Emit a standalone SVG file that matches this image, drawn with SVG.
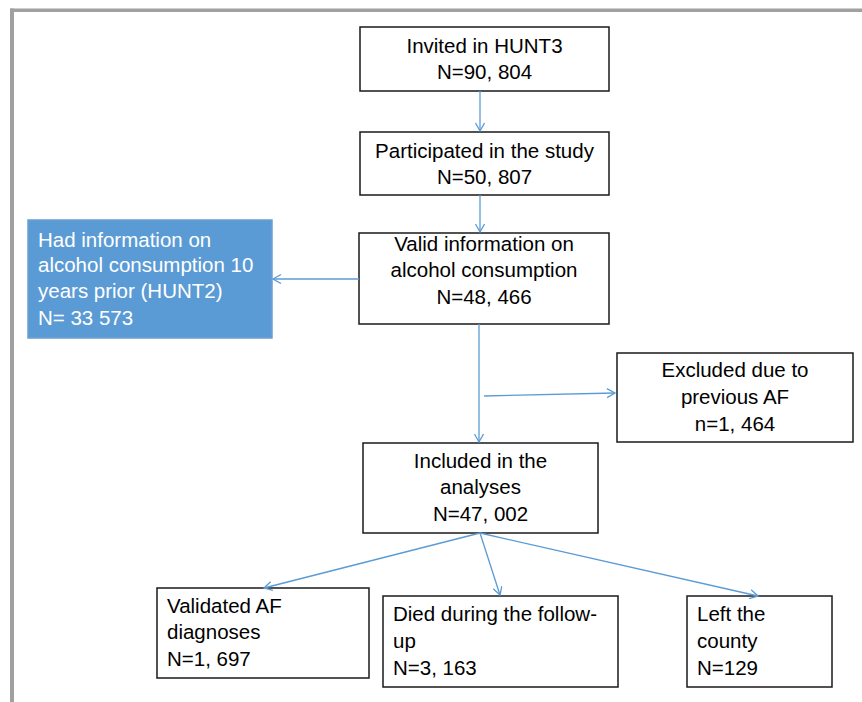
<svg xmlns="http://www.w3.org/2000/svg" width="862" height="702" viewBox="0 0 862 702">
<defs>
<marker id="arr" markerUnits="userSpaceOnUse" markerWidth="12" markerHeight="12" refX="9" refY="5" orient="auto">
<path d="M1,0.5 L9,5 L1,9.5" fill="none" stroke="#5b9bd5" stroke-width="1.3"/>
</marker>
<style>
.box{fill:#fff;stroke:#1a1a1a;stroke-width:1.5}
.blue{fill:#5b9bd5;stroke:#6d9fd0;stroke-width:1.5}
text{font-family:"Liberation Sans",Arial,sans-serif;font-size:20.5px;fill:#000}
.c{text-anchor:middle}
.w{fill:#fff}
.con line{stroke:#5b9bd5;stroke-width:1.3;fill:none}
</style>
</defs>
<rect width="862" height="702" fill="#fff"/>
<g id="frame" fill="#a0a0a0">
<rect x="10" y="8.5" width="852" height="3.5"/>
<rect x="10" y="8.5" width="4" height="693.5"/>
</g>
<g id="invited">
<rect class="box" x="360" y="27" width="249" height="64"/>
<text class="c" x="484.5" y="53">Invited in HUNT3</text>
<text class="c" x="484.5" y="79">N=90, 804</text>
</g>
<g id="participated">
<rect class="box" x="360" y="132" width="249" height="63"/>
<text class="c" x="484.5" y="158">Participated in the study</text>
<text class="c" x="484.5" y="184">N=50, 807</text>
</g>
<g id="valid">
<rect class="box" x="359" y="233" width="250" height="91"/>
<text class="c" x="484" y="251">Valid information on</text>
<text class="c" x="484" y="277">alcohol consumption</text>
<text class="c" x="484" y="304">N=48, 466</text>
</g>
<g id="hunt2">
<rect class="blue" x="28" y="220" width="244" height="118"/>
<text class="w" x="38" y="247">Had information on</text>
<text class="w" x="38" y="272">alcohol consumption 10</text>
<text class="w" x="38" y="298">years prior (HUNT2)</text>
<text class="w" x="38" y="325">N= 33 573</text>
</g>
<g id="excluded">
<rect class="box" x="617" y="353" width="236" height="89"/>
<text class="c" x="735" y="377">Excluded due to</text>
<text class="c" x="735" y="404">previous AF</text>
<text class="c" x="735" y="431">n=1, 464</text>
</g>
<g id="included">
<rect class="box" x="363" y="443" width="235" height="90"/>
<text class="c" x="480.5" y="468">Included in the</text>
<text class="c" x="480.5" y="494">analyses</text>
<text class="c" x="480.5" y="521">N=47, 002</text>
</g>
<g id="validated">
<rect class="box" x="157" y="588" width="212" height="90"/>
<text x="167" y="613">Validated AF</text>
<text x="167" y="639">diagnoses</text>
<text x="167" y="666">N=1, 697</text>
</g>
<g id="died">
<rect class="box" x="383" y="596" width="235" height="91"/>
<text x="393" y="621">Died during the follow-</text>
<text x="393" y="648">up</text>
<text x="393" y="675">N=3, 163</text>
</g>
<g id="left">
<rect class="box" x="687" y="596" width="145" height="91"/>
<text x="697" y="621">Left the</text>
<text x="697" y="648">county</text>
<text x="697" y="675">N=129</text>
</g>
<g class="con" id="connectors">
<line x1="480" y1="91" x2="480" y2="131" marker-end="url(#arr)"/>
<line x1="480" y1="195" x2="480" y2="232" marker-end="url(#arr)"/>
<line x1="359" y1="279" x2="273" y2="279" marker-end="url(#arr)"/>
<line x1="479" y1="324" x2="479" y2="442" marker-end="url(#arr)"/>
<line x1="484" y1="396" x2="615" y2="393" marker-end="url(#arr)"/>
<line x1="480" y1="533" x2="264" y2="588" marker-end="url(#arr)"/>
<line x1="480" y1="533" x2="500" y2="595" marker-end="url(#arr)"/>
<line x1="480" y1="533" x2="758" y2="596" marker-end="url(#arr)"/>
</g>
</svg>
